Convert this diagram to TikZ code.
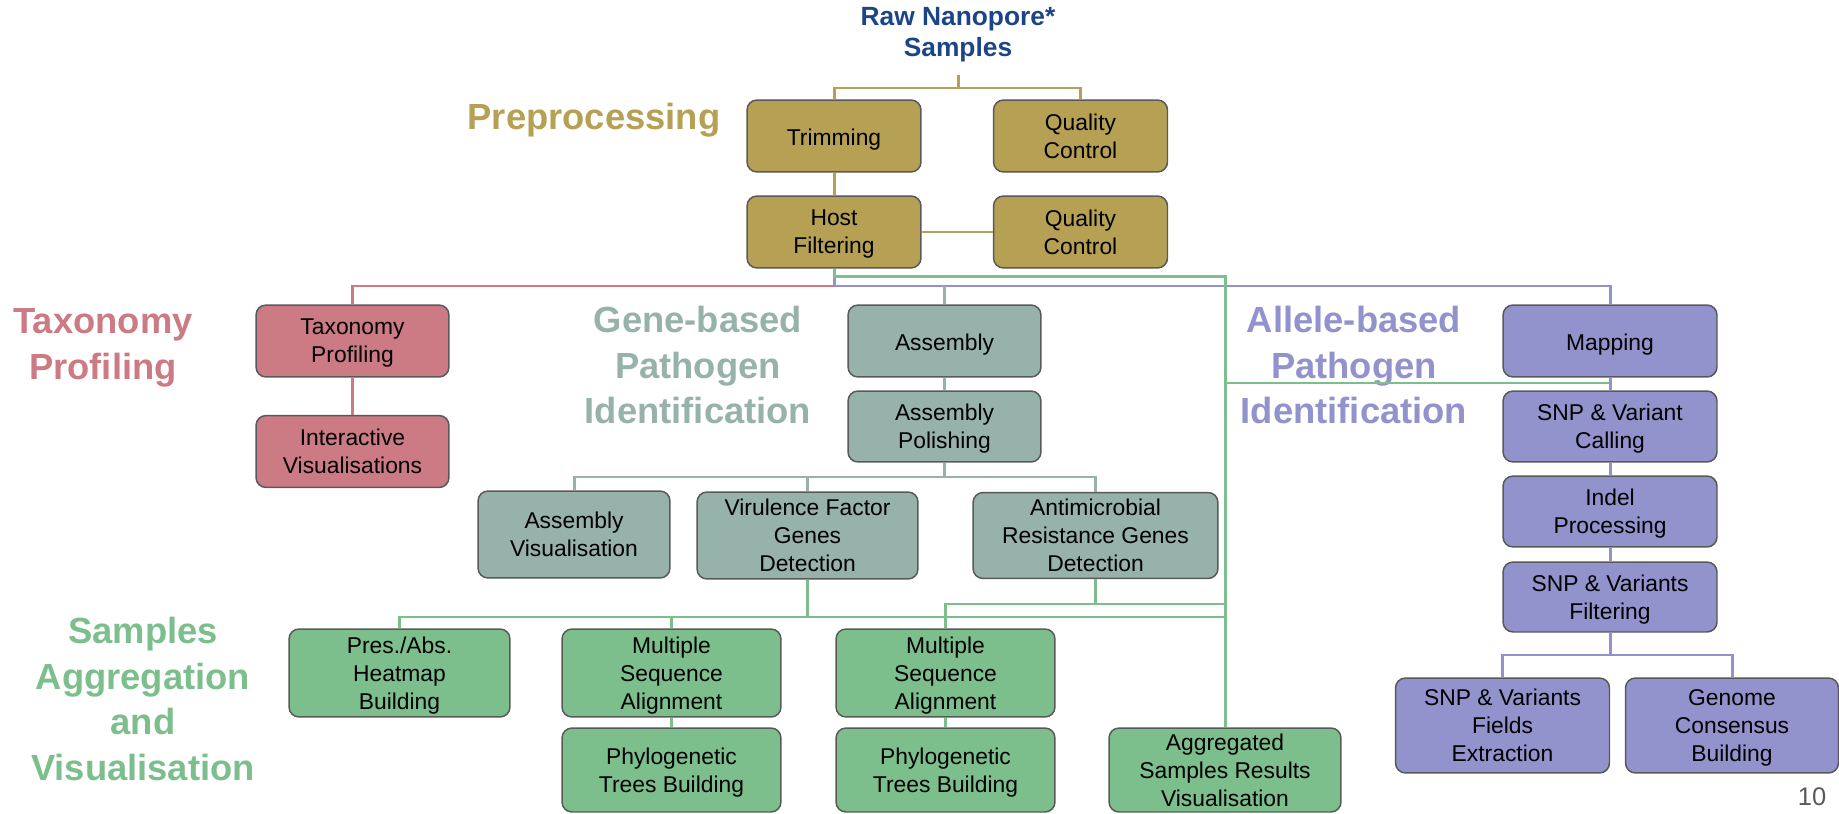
\documentclass[tikz,border=0pt]{standalone}
\usepackage{fontspec}
\setmainfont{Liberation Sans}
\usepackage{xcolor}
\usetikzlibrary{positioning}
\definecolor{titleblue}{RGB}{28,69,135}
\definecolor{prepgold}{RGB}{181,160,84}
\definecolor{taxred}{RGB}{204,122,131}
\definecolor{genegray}{RGB}{150,178,170}
\definecolor{allelepurple}{RGB}{146,146,204}
\definecolor{aggrgreen}{RGB}{124,190,140}
\definecolor{boxedge}{RGB}{89,89,89}

\begin{document}
\begin{tikzpicture}[x=0.02cm,y=-0.02cm,
  box/.style={draw=boxedge,line width=0.85pt,rounded corners=0.2cm,align=center,inner sep=0pt,text depth=0pt,font=\fontsize{13}{16}\selectfont},
  oneline/.style={text height=14pt,text depth=2.7pt},
  prepbox/.style={box,fill=prepgold,minimum width=3.48cm,minimum height=1.44cm},
  taxbox/.style={box,fill=taxred,minimum width=3.86cm,minimum height=1.44cm},
  genebox/.style={box,fill=genegray},
  allelebox/.style={box,fill=allelepurple,minimum width=4.28cm},
  aggrbox/.style={box,fill=aggrgreen},
  sect/.style={align=center,inner sep=0pt,font=\bfseries\fontsize{20.7}{26}\selectfont},
  wire/.style={line width=1.7pt},
  goldwire/.style={wire,draw=prepgold},
  redwire/.style={wire,draw=taxred},
  graywire/.style={wire,draw=genegray},
  purplewire/.style={wire,draw=allelepurple},
  greenwire/.style={wire,draw=aggrgreen}]
\useasboundingbox (0,0) rectangle (1839,814);

\node[align=center,inner sep=0pt,text=titleblue,font=\bfseries\fontsize{15}{17.6}\selectfont] (raw) at (958,35) {Raw Nanopore*\\Samples};

\node[sect,text=prepgold] (preplbl) at (594,120) {Preprocessing};
\node[sect,text=taxred] (taxlbl) at (103,348) {Taxonomy\\Profiling};
\node[sect,text=genegray] (genelbl) at (698,365) {Gene-based\\Pathogen\\Identification};
\node[sect,text=allelepurple] (allelelbl) at (1354,365) {Allele-based\\Pathogen\\Identification};
\node[sect,text=aggrgreen] (aggrlbl) at (143,699) {Samples\\Aggregation\\and\\Visualisation};

\node[prepbox,oneline] (trim) at (834,136) {Trimming};
\node[prepbox] (qcone) at (1080.5,136) {Quality\\Control};
\node[prepbox] (host) at (834,232) {Host\\Filtering};
\node[prepbox] (qctwo) at (1080.5,232) {Quality\\Control};

\node[taxbox] (taxo) at (352.5,341) {Taxonomy\\Profiling};
\node[taxbox] (inter) at (352.5,451.5) {Interactive\\Visualisations};

\node[genebox,oneline,minimum width=3.86cm,minimum height=1.44cm] (asm) at (944.5,341) {Assembly};
\node[genebox,minimum width=3.86cm,minimum height=1.42cm] (pol) at (944.5,426.5) {Assembly\\Polishing};
\node[genebox,minimum width=3.84cm,minimum height=1.74cm] (asmvis) at (574,534.5) {Assembly\\Visualisation};
\node[genebox,minimum width=4.42cm,minimum height=1.74cm] (vir) at (807.5,535.5) {Virulence Factor\\Genes\\Detection};
\node[genebox,minimum width=4.9cm,minimum height=1.72cm] (amr) at (1095.5,535.5) {Antimicrobial\\Resistance Genes\\Detection};

\node[allelebox,oneline,minimum height=1.44cm] (map) at (1610,341) {Mapping};
\node[allelebox,minimum height=1.42cm] (call) at (1610,426.5) {SNP \& Variant\\Calling};
\node[allelebox,minimum height=1.42cm] (indel) at (1610,511.5) {Indel\\Processing};
\node[allelebox,minimum height=1.40cm] (filt) at (1610,597) {SNP \& Variants\\Filtering};
\node[allelebox,minimum height=1.90cm] (fields) at (1502.5,725.5) {SNP \& Variants\\Fields\\Extraction};
\node[allelebox,minimum width=4.26cm,minimum height=1.90cm] (genome) at (1732,725.5) {Genome\\Consensus\\Building};

\node[aggrbox,minimum width=4.42cm,minimum height=1.76cm] (pres) at (399.5,673) {Pres./Abs.\\Heatmap\\Building};
\node[aggrbox,minimum width=4.38cm,minimum height=1.76cm] (msaone) at (671.5,673) {Multiple\\Sequence\\Alignment};
\node[aggrbox,minimum width=4.38cm,minimum height=1.76cm] (msatwo) at (945.5,673) {Multiple\\Sequence\\Alignment};
\node[aggrbox,minimum width=4.38cm,minimum height=1.68cm] (phyone) at (671.5,770) {Phylogenetic\\Trees Building};
\node[aggrbox,minimum width=4.38cm,minimum height=1.68cm] (phytwo) at (945.5,770) {Phylogenetic\\Trees Building};
\node[aggrbox,minimum width=4.64cm,minimum height=1.68cm] (agg) at (1225,770) {Aggregated\\Samples Results\\Visualisation};

\node[inner sep=0pt,text=boxedge,font=\fontsize{14.5}{17}\selectfont] (page) at (1812,797) {10};

\coordinate (rawsplit) at (958,88);
\coordinate (hub) at (834,286);
\coordinate (gsplit) at (944.5,477);
\coordinate (fsplit) at (1610,655);
\coordinate (mapjoin) at (1225,383);
\coordinate (amrjoin) at (1225,604);
\coordinate (virjoin) at (1225,617);

\draw[goldwire] (raw.south) ++(0,12) -- (rawsplit);
\draw[goldwire] (trim.north) |- (rawsplit) -| (qcone.north);
\draw[goldwire] (trim) -- (host);
\draw[goldwire] (host) -- (qctwo);

\draw[purplewire] (host.south) -- (hub) -| (map.north);
\draw[redwire] (hub) -| (taxo.north);
\draw[greenwire] (host.south) -- ++(0,8) -| (agg.north);
\draw[graywire] (asm.north) -- (asm.north |- hub);

\draw[redwire] (taxo) -- (inter);

\draw[graywire] (asm) -- (pol);
\draw[graywire] (pol.south) -- (gsplit);
\draw[graywire] (asmvis.north) |- (gsplit) -| (amr.north);
\draw[graywire] (vir.north) -- (vir.north |- gsplit);

\draw[greenwire] (mapjoin) -- (mapjoin -| map.south);
\draw[purplewire] (map) -- (call);
\draw[purplewire] (call) -- (indel);
\draw[purplewire] (indel) -- (filt);
\draw[purplewire] (filt.south) -- (fsplit);
\draw[purplewire] (fields.north) |- (fsplit) -| (genome.north);

\draw[greenwire] (vir.south) -- (vir.south |- virjoin);
\draw[greenwire] (pres.north) |- (virjoin);
\draw[greenwire] (msaone.north) -- (msaone.north |- virjoin);
\draw[greenwire] (amr.south) |- (amrjoin);
\draw[greenwire] (amrjoin) -| (msatwo.north);
\draw[greenwire] (msaone) -- (phyone);
\draw[greenwire] (msatwo) -- (phytwo);
\end{tikzpicture}
\end{document}
